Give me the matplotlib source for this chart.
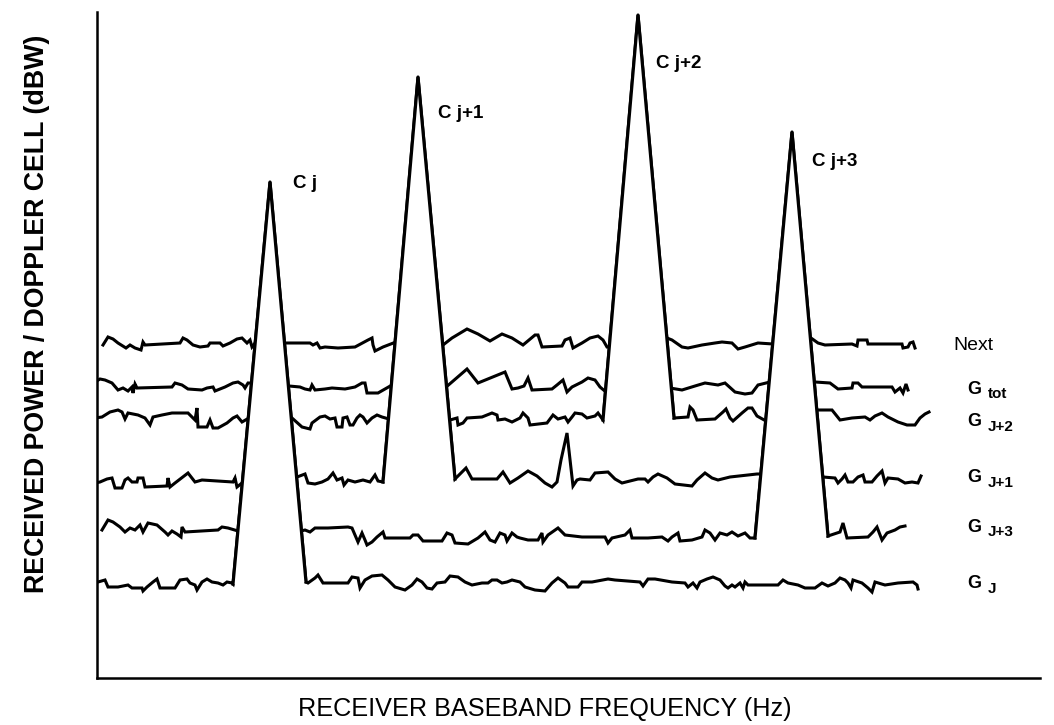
import numpy as np
import matplotlib.pyplot as plt

plt.rcParams['font.family'] = ['Liberation Sans', 'DejaVu Sans']

# traces: x = frequency position (px), y = level (px from top)
next_x = [103, 108, 113, 118, 126, 130, 135, 141, 143, 145, 180, 183, 187, 193, 200, 208, 210, 220, 223, 230,
          237, 242, 247, 250, 252, 256,
          285, 310, 313, 317, 320, 325, 338, 355, 368, 372, 373, 375, 383, 396,
          443, 452, 467, 478, 490, 502, 512, 523, 535, 538, 542, 562, 565, 570, 573, 582, 590, 598, 603, 607, 610,
          667, 672, 682, 688, 702, 715, 722, 732, 738, 745, 758, 773,
          811, 818, 825, 852, 857, 858, 867, 868, 902, 903, 908, 910, 913, 915]
next_y = [345, 337, 339, 343, 348, 345, 348, 350, 342, 345, 343, 338, 340, 345, 347, 346, 343, 343, 346, 343,
          339, 338, 343, 340, 347, 342,
          343, 343, 345, 343, 348, 347, 348, 347, 340, 338, 345, 351, 347, 342,
          345, 338, 329, 334, 341, 334, 338, 345, 335, 335, 347, 346, 340, 338, 348, 343, 338, 336, 340, 347, 347,
          338, 340, 347, 348, 345, 343, 342, 343, 349, 347, 343, 344,
          338, 343, 345, 344, 346, 340, 340, 344, 344, 348, 347, 343, 342, 348]

gtot_x = [95, 100, 105, 112, 118, 123, 128, 132, 133, 135, 137, 172, 175, 182, 188, 202, 207, 213, 215, 225,
          233, 238, 243, 245, 248, 253,
          289, 300, 305, 310, 312, 315, 325, 332, 345, 355, 362, 365, 367, 378, 392,
          445, 467, 478, 505, 512, 518, 524, 528, 532, 552, 557, 563, 567, 572, 582, 588, 595, 600, 606,
          670, 682, 695, 705, 718, 725, 735, 745, 752, 758, 770,
          815, 830, 838, 852, 853, 858, 862, 892, 895, 900, 903, 906, 908]
gtot_y = [382, 379, 380, 383, 390, 388, 391, 387, 393, 384, 388, 387, 383, 385, 389, 390, 388, 387, 391, 387,
          383, 382, 385, 388, 383, 383,
          386, 387, 389, 390, 385, 390, 389, 388, 389, 387, 383, 383, 393, 393, 385,
          388, 369, 383, 372, 389, 388, 386, 378, 390, 389, 385, 380, 392, 387, 382, 378, 380, 387, 392,
          388, 390, 386, 383, 385, 383, 392, 394, 393, 385, 382,
          382, 383, 389, 388, 383, 383, 387, 387, 392, 388, 393, 384, 390]

gj2_x = [95, 102, 110, 118, 122, 125, 128, 138, 145, 150, 153, 162, 172, 188, 195, 197, 198, 207, 210, 213,
         218, 227, 233, 237, 242, 249,
         292, 302, 310, 312, 320, 325, 330, 335, 337, 342, 343, 347, 350, 353, 357, 360, 363, 367, 372, 377, 382, 389,
         450, 457, 458, 463, 467, 482, 492, 497, 498, 505, 512, 520, 523, 528, 530, 547, 553, 558, 565, 568, 572,
         575, 582, 587, 595, 598,
         688, 690, 693, 697, 715, 723, 726, 730, 733, 742, 748, 752, 757, 766,
         818, 832, 840, 852, 865, 870, 875, 882, 888, 898, 907, 915, 920, 925, 929]
gj2_y = [418, 417, 412, 410, 412, 419, 413, 415, 418, 425, 417, 415, 413, 413, 420, 408, 427, 427, 420, 428,
         428, 423, 418, 416, 422, 418,
         418, 427, 429, 423, 417, 416, 419, 418, 427, 427, 418, 417, 425, 425, 418, 415, 417, 423, 418, 415, 417, 419,
         420, 418, 425, 423, 418, 417, 413, 415, 420, 419, 422, 418, 413, 418, 425, 423, 415, 419, 417, 422, 417,
         413, 414, 418, 416, 413,
         417, 407, 410, 420, 419, 412, 409, 418, 421, 413, 408, 408, 416, 421,
         410, 410, 420, 418, 417, 420, 416, 413, 417, 422, 425, 425, 418, 414, 412]

gj1_x = [95, 100, 107, 112, 115, 122, 125, 128, 132, 137, 138, 143, 145, 167, 168, 170, 175, 188, 195, 202,
         233, 235, 237, 242,
         297, 305, 308, 315, 322, 328, 333, 337, 342, 344, 348, 355, 363, 370, 375, 378,
         466, 472, 497, 503, 510, 518, 528, 537, 545, 552, 557, 561, 567, 573, 577, 580, 590, 595, 608, 615, 622,
         630, 638, 645, 648, 653, 658, 667, 675, 692, 697, 705, 712, 718, 730, 757, 762,
         823, 835, 838, 842, 845, 848, 853, 858, 863, 865, 872, 877, 882, 885, 888, 898, 905, 912, 918, 921]
gj1_y = [483, 482, 479, 478, 488, 488, 480, 478, 482, 482, 478, 478, 487, 486, 478, 487, 483, 473, 482, 480,
         482, 478, 487, 483,
         477, 474, 483, 484, 482, 479, 473, 480, 478, 485, 480, 482, 480, 482, 475, 481,
         468, 479, 479, 472, 483, 478, 471, 476, 483, 487, 482, 460, 433, 486, 480, 479, 480, 473, 472, 479, 483,
         481, 479, 479, 482, 477, 474, 478, 484, 486, 480, 473, 478, 480, 477, 474, 474,
         477, 478, 483, 479, 475, 482, 482, 477, 475, 482, 482, 476, 471, 483, 478, 479, 483, 482, 483, 476]

gj3_x = [102, 108, 113, 120, 125, 130, 135, 140, 143, 148, 157, 165, 168, 172, 177, 181, 182, 185, 218, 222,
         228, 238,
         301, 305, 310, 315, 328, 348, 352, 355, 358, 362, 365, 367, 372, 377, 383, 385, 395, 410, 413, 418, 423,
         442, 447, 452, 455, 468, 478, 485, 490, 495, 500, 505, 507, 512, 517, 520, 528, 538, 542, 543, 548, 558,
         565, 582, 605, 608, 612, 625, 630, 632, 648, 662, 668, 672, 678, 680, 692, 702, 705, 710, 715, 720, 727,
         732, 738, 745, 750,
         840, 843, 847, 868, 873, 877, 882, 887, 895, 900, 905]
gj3_y = [530, 520, 522, 527, 532, 528, 530, 525, 532, 523, 525, 532, 535, 531, 534, 537, 527, 532, 530, 527,
         528, 531,
         531, 530, 532, 528, 528, 527, 528, 535, 542, 533, 540, 545, 542, 537, 532, 538, 538, 538, 535, 535, 541,
         541, 533, 535, 543, 544, 538, 532, 540, 542, 533, 535, 541, 533, 537, 538, 540, 540, 533, 542, 535, 528,
         535, 537, 537, 543, 538, 535, 530, 538, 538, 537, 541, 537, 533, 541, 540, 537, 530, 533, 540, 533, 535,
         532, 536, 533, 538,
         532, 523, 538, 537, 532, 527, 540, 533, 530, 527, 526]

gj_x = [95, 98, 105, 108, 118, 128, 132, 142, 143, 147, 153, 157, 160, 175, 180, 187, 190, 195, 197, 202,
        207, 212, 218, 223, 227, 232,
        308, 315, 318, 323, 348, 352, 358, 360, 365, 372, 382, 388, 395, 405, 412, 417, 422, 427, 432, 437, 445,
        450, 458, 465, 472, 482, 488, 492, 497, 502, 507, 512, 520, 525, 535, 545, 552, 558, 565, 568, 578, 582,
        592, 608, 615, 640, 643, 648, 655, 672, 685, 688, 693, 697, 700, 707, 713, 720, 725, 728, 732, 735, 740,
        743, 745, 748, 778, 783, 788, 798, 805, 815, 822, 828, 835, 840, 845, 848, 851, 853, 862, 868, 872, 875,
        885, 898, 913, 917, 918]
gj_y = [583, 582, 580, 587, 587, 585, 588, 588, 591, 587, 582, 579, 588, 588, 580, 579, 583, 585, 590, 582,
        579, 582, 583, 585, 582, 583,
        583, 578, 575, 583, 583, 577, 578, 588, 580, 576, 575, 580, 587, 590, 585, 579, 582, 588, 589, 583, 582,
        576, 577, 582, 585, 583, 583, 580, 580, 583, 582, 580, 582, 587, 590, 591, 583, 578, 583, 587, 587, 582,
        582, 579, 580, 582, 586, 579, 579, 582, 583, 587, 583, 588, 582, 579, 577, 580, 586, 588, 585, 587, 583,
        588, 582, 585, 585, 580, 583, 585, 588, 588, 583, 586, 583, 578, 580, 583, 588, 580, 583, 588, 592, 582,
        585, 583, 582, 585, 589]

# peaks: left foot, top, right foot
peak_labels = ["C j", "C j+1", "C j+2", "C j+3"]
peak_x = [[233, 270, 306], [383, 418, 455], [603, 638, 674], [755, 792, 828]]
peak_y = [[584, 182, 582], [482, 77, 479], [420, 15, 418], [538, 132, 536]]
label_pos = [(293, 183), (438, 114), (656, 63), (812, 161)]

traces = {"Next": (next_x, next_y), "tot": (gtot_x, gtot_y), "J+2": (gj2_x, gj2_y),
          "J+1": (gj1_x, gj1_y), "J+3": (gj3_x, gj3_y), "J": (gj_x, gj_y)}
peak_owner = ["J", "J+1", "J+2", "J+3"]
right_labels = ["Next", "tot", "J+2", "J+1", "J+3", "J"]
right_label_y = [346, 389, 422, 478, 527, 584]

fig = plt.figure(figsize=(10.54, 7.25), dpi=100)
ax = fig.add_axes([97 / 1054, 47 / 725, 943 / 1054, 666 / 725])

for name, (xs, ys) in traces.items():
    xs = list(xs)
    ys = list(ys)
    if name in peak_owner:
        k = peak_owner.index(name)
        xs += peak_x[k]
        ys += peak_y[k]
    order = np.argsort(xs, kind="stable")
    ax.plot(np.array(xs)[order], np.array(ys)[order], color="black", lw=2.2,
            solid_joinstyle="miter", zorder=2)

for k in range(len(peak_x)):
    ax.fill(peak_x[k], peak_y[k], color="white", lw=0, zorder=3)
    ax.plot(peak_x[k], peak_y[k], color="black", lw=2.3, zorder=4)
    ax.text(label_pos[k][0], label_pos[k][1], peak_labels[k], fontsize=13.5,
            fontweight="bold", ha="left", va="center")

for name, y in zip(right_labels, right_label_y):
    if name == "Next":
        ax.text(953, y, "Next", fontsize=14, ha="left", va="center")
    else:
        ax.text(967, y, "G", fontsize=13, fontweight="bold", ha="left", va="center")
        ax.text(988, y + 5, name, fontsize=11, fontweight="bold", ha="left", va="center")

ax.set_xlim(97, 1040)
ax.set_ylim(678, 12)
ax.set_xticks([])
ax.set_yticks([])
for s in ["top", "right"]:
    ax.spines[s].set_visible(False)
for s in ["left", "bottom"]:
    ax.spines[s].set_linewidth(1.8)

fig.text(545 / 1054, 1 - 709 / 725, "RECEIVER BASEBAND FREQUENCY (Hz)", fontsize=18.2,
         ha="center", va="center")
fig.text(37 / 1054, 1 - 314 / 725, "RECEIVED POWER / DOPPLER CELL (dBW)", fontsize=19.3,
         fontweight="bold", rotation=90, ha="center", va="center")

fig.savefig("out.png", dpi=100)
